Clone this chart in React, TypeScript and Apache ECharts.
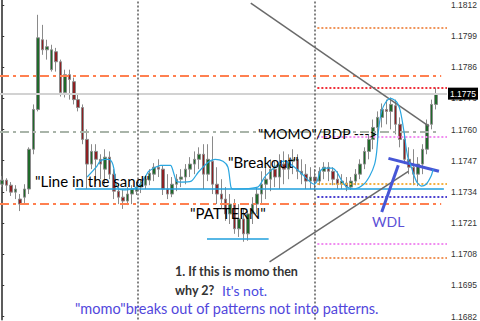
import React, { useEffect, useRef } from "react";
import * as echarts from "echarts";

// ---- data (prices) ----
const categories: string[] = Array.from({ length: 100 }, (_, i) => String(i + 1));

// [open, close, low, high]
const ohlc: number[][] = [
  [1.17372, 1.17389, 1.1736, 1.17406],
  [1.17389, 1.17368, 1.17343, 1.17397],
  [1.17368, 1.17339, 1.17323, 1.17381],
  [1.17339, 1.17352, 1.1731, 1.17368],
  [1.1731, 1.17289, 1.1726, 1.17331],
  [1.17318, 1.17352, 1.17289, 1.17372],
  [1.17352, 1.17518, 1.17331, 1.17526],
  [1.17518, 1.17684, 1.17497, 1.17705],
  [1.17684, 1.17983, 1.17676, 1.18079],
  [1.17975, 1.17933, 1.17912, 1.18037],
  [1.17933, 1.17946, 1.17892, 1.17975],
  [1.1785, 1.17933, 1.17842, 1.17954],
  [1.17925, 1.17883, 1.17842, 1.17941],
  [1.17883, 1.17755, 1.17738, 1.17892],
  [1.17755, 1.17829, 1.17734, 1.1785],
  [1.17829, 1.17809, 1.17725, 1.1785],
  [1.178, 1.17725, 1.17705, 1.17817],
  [1.17725, 1.17692, 1.17676, 1.17746],
  [1.17692, 1.17559, 1.17539, 1.17705],
  [1.17559, 1.17456, 1.17352, 1.17601],
  [1.17456, 1.17509, 1.17435, 1.17539],
  [1.17509, 1.17476, 1.17372, 1.17539],
  [1.17476, 1.17456, 1.17393, 1.17497],
  [1.17435, 1.17485, 1.17372, 1.17518],
  [1.17485, 1.17414, 1.17393, 1.17509],
  [1.17414, 1.17343, 1.1731, 1.17435],
  [1.17343, 1.17318, 1.17289, 1.17372],
  [1.17318, 1.17302, 1.17269, 1.17352],
  [1.17302, 1.17331, 1.17285, 1.1736],
  [1.17331, 1.17352, 1.17289, 1.17368],
  [1.17343, 1.1736, 1.17327, 1.17381],
  [1.1736, 1.17372, 1.17335, 1.17393],
  [1.17368, 1.17393, 1.17352, 1.1741],
  [1.17389, 1.17418, 1.17368, 1.17435],
  [1.17414, 1.17443, 1.17385, 1.1746],
  [1.17443, 1.17435, 1.17402, 1.17476],
  [1.17435, 1.17352, 1.17327, 1.17451],
  [1.17352, 1.17331, 1.1731, 1.17414],
  [1.17331, 1.17372, 1.17318, 1.17402],
  [1.17372, 1.17393, 1.17343, 1.17414],
  [1.17393, 1.17402, 1.1736, 1.17435],
  [1.17402, 1.17435, 1.17372, 1.17456],
  [1.17435, 1.17456, 1.17402, 1.17485],
  [1.17456, 1.17476, 1.17414, 1.17509],
  [1.17476, 1.17497, 1.17435, 1.17526],
  [1.17497, 1.17414, 1.17352, 1.17539],
  [1.17414, 1.17476, 1.17385, 1.17539],
  [1.17468, 1.17372, 1.17331, 1.17572],
  [1.17372, 1.17331, 1.17289, 1.17443],
  [1.17331, 1.1731, 1.17269, 1.17393],
  [1.1731, 1.17248, 1.17219, 1.1736],
  [1.17248, 1.17289, 1.17206, 1.17331],
  [1.17289, 1.17186, 1.17165, 1.1731],
  [1.17186, 1.17227, 1.17152, 1.17289],
  [1.17227, 1.17165, 1.17132, 1.17269],
  [1.17165, 1.17248, 1.17136, 1.1726],
  [1.17248, 1.17289, 1.17206, 1.17318],
  [1.17289, 1.17331, 1.17248, 1.1736],
  [1.17331, 1.17372, 1.17289, 1.17426],
  [1.17372, 1.17393, 1.1731, 1.17443],
  [1.17393, 1.17435, 1.17343, 1.17476],
  [1.17435, 1.17402, 1.1736, 1.17468],
  [1.17402, 1.17456, 1.17352, 1.17497],
  [1.17456, 1.17435, 1.17372, 1.17509],
  [1.17435, 1.17468, 1.17393, 1.17497],
  [1.17468, 1.17476, 1.17414, 1.17518],
  [1.17476, 1.17426, 1.17393, 1.17497],
  [1.17426, 1.17414, 1.17372, 1.17476],
  [1.17414, 1.17385, 1.17352, 1.17456],
  [1.17385, 1.17402, 1.17352, 1.17443],
  [1.17402, 1.17385, 1.17343, 1.17435],
  [1.17385, 1.17426, 1.17368, 1.17443],
  [1.17426, 1.17443, 1.17393, 1.17464],
  [1.17443, 1.17426, 1.17385, 1.17464],
  [1.17426, 1.17393, 1.17368, 1.17443],
  [1.17393, 1.17372, 1.17352, 1.17426],
  [1.17372, 1.17385, 1.17352, 1.17414],
  [1.17377, 1.1736, 1.17343, 1.17402],
  [1.1736, 1.17385, 1.17348, 1.17402],
  [1.17385, 1.17414, 1.17368, 1.17435],
  [1.17414, 1.17456, 1.17393, 1.17476],
  [1.17456, 1.17509, 1.17435, 1.17526],
  [1.17509, 1.17559, 1.17476, 1.1758],
  [1.17559, 1.17609, 1.17518, 1.17642],
  [1.17609, 1.17651, 1.17559, 1.17676],
  [1.17651, 1.17684, 1.17609, 1.17709],
  [1.17684, 1.17676, 1.17622, 1.17725],
  [1.17676, 1.17705, 1.17601, 1.17734],
  [1.177, 1.17622, 1.1758, 1.17725],
  [1.17622, 1.17559, 1.17526, 1.17651],
  [1.17559, 1.17476, 1.17456, 1.17593],
  [1.17476, 1.17443, 1.17414, 1.17526],
  [1.17443, 1.17414, 1.17368, 1.17518],
  [1.17414, 1.17456, 1.17364, 1.17485],
  [1.17456, 1.17518, 1.17414, 1.17539],
  [1.17518, 1.17622, 1.17497, 1.17642],
  [1.17622, 1.17705, 1.17601, 1.17725],
  [1.17705, 1.1775, 1.17684, 1.17775],
];

const yTicks: number[] = [1.1682, 1.1695, 1.1708, 1.1721, 1.1734, 1.1747, 1.176, 1.1773, 1.1786, 1.1799, 1.1812];
const yMin = 1.168075;
const yMax = 1.181408;

const currentPrice = 1.1775;
const orangeDashDotLevels: number[] = [1.17825, 1.17291];
const grayDashDotLevel = 1.1759;
const lineInTheSand = 1.17354;
const lineInTheSandSpan: number[] = [16.35, 98.8];
const patternBase = 1.17144;
const patternBaseSpan: number[] = [45.8, 59.6];
// right-hand dotted levels (start at the 2nd separator)
const rightLevelStart = 70.5;
const rightLevelEnd = 99.5;
const orangeDotLevels: number[] = [1.18025, 1.17065];
const redDotLevel = 1.17775;
const pinkDotLevels: number[] = [1.17572, 1.17123];
const goldDotLevel = 1.17372;
const purpleDotLevel = 1.17318;
const separators: number[] = [30.21, 70.01];

const trendLines: number[][][] = [
  [[14.36, 1.17887], [16.35, 1.18141]],
  [[55.6, 1.18128], [95.5, 1.17613]],
  [[59.8, 1.17048], [90.85, 1.17426]],
];
const wdlLines: number[][][] = [
  [[86.4, 1.1748], [97.7, 1.17426]],
  [[84.9, 1.17256], [88.6, 1.17451]],
];

const cyanCurve: number[][] = [
  [19.01, 1.17402], [21.01, 1.17443], [21.89, 1.17468], [23.0, 1.17476], [23.89, 1.17476], [24.56, 1.17464],
  [25.0, 1.17435], [25.44, 1.17372], [26.11, 1.17352], [27.66, 1.17348], [28.99, 1.17352], [30.54, 1.17364],
  [32.09, 1.17406], [32.76, 1.17426], [34.31, 1.17443], [35.42, 1.17451], [37.64, 1.17451], [38.3, 1.17422],
  [38.97, 1.17385], [39.86, 1.17381], [42.29, 1.17385], [43.85, 1.17422], [46.06, 1.17464], [47.62, 1.17476],
  [49.39, 1.17468], [50.5, 1.17443], [51.16, 1.1736], [51.61, 1.17352], [57.15, 1.1736], [58.7, 1.17402],
  [60.48, 1.17435], [62.25, 1.17464], [63.36, 1.17468], [64.47, 1.17456], [66.68, 1.17422], [68.68, 1.17385],
  [69.79, 1.17372], [70.45, 1.17385], [71.12, 1.17426], [72.01, 1.17439], [73.78, 1.17439], [74.89, 1.17422],
  [76.0, 1.17385], [77.11, 1.1736], [78.66, 1.17352], [80.88, 1.17372], [82.21, 1.17406], [83.31, 1.17456],
  [83.76, 1.17506], [84.2, 1.17601], [84.87, 1.17676], [85.75, 1.17713], [86.86, 1.1773], [88.19, 1.17717],
  [89.08, 1.17676], [89.97, 1.1758], [90.41, 1.17518], [90.85, 1.17476], [91.52, 1.17443], [92.63, 1.17385],
  [93.74, 1.17364], [94.84, 1.17372], [95.95, 1.17406], [96.4, 1.17435],
];

const FONT = "Lato, 'Open Sans', sans-serif";

export default function App() {
  const ref = useRef<HTMLDivElement>(null);
  useEffect(() => {
    if (!ref.current) return;
    const chart = echarts.init(ref.current, null, { renderer: "svg" });

    const dashDot = [9, 4, 3, 4];
    const dotted = [2, 2];
    const hSeg = (v: number, a: number, b: number, style: any) => [
      { coord: [a, v], lineStyle: style },
      { coord: [b, v] },
    ];
    const markData: any[] = [];
    // current price line with its price box
    markData.push([
      {
        coord: [-0.5, currentPrice],
        lineStyle: { color: "#d2d2d2", width: 2, type: "solid" },
        label: {
          show: true,
          position: "end",
          distance: 1,
          formatter: currentPrice.toFixed(4),
          backgroundColor: "#000",
          color: "#fff",
          fontSize: 8.5,
          fontFamily: "'Liberation Sans', sans-serif",
          padding: [2, 2, 1, 2],
        },
      },
      { coord: [99.5, currentPrice] },
    ]);
    orangeDashDotLevels.forEach((v) =>
      markData.push(hSeg(v, -0.5, 98.2, { color: "#ff8050", width: 2, type: dashDot }))
    );
    markData.push(hSeg(grayDashDotLevel, -0.5, 97.5, { color: "#a9b4a9", width: 2, type: dashDot }));
    orangeDotLevels.forEach((v) =>
      markData.push(hSeg(v, rightLevelStart, rightLevelEnd, { color: "#f0955a", width: 2, type: dotted }))
    );
    markData.push(hSeg(redDotLevel, rightLevelStart, rightLevelEnd, { color: "#f0303a", width: 2, type: dotted }));
    pinkDotLevels.forEach((v) =>
      markData.push(hSeg(v, rightLevelStart, rightLevelEnd, { color: "#f08cf0", width: 2, type: dotted }))
    );
    markData.push(hSeg(goldDotLevel, rightLevelStart, rightLevelEnd, { color: "#f5b040", width: 2, type: dotted }));
    markData.push(hSeg(purpleDotLevel, rightLevelStart, rightLevelEnd, { color: "#4a3fd0", width: 2, type: dotted }));
    markData.push(hSeg(lineInTheSand, lineInTheSandSpan[0], lineInTheSandSpan[1], { color: "#1f9fdc", width: 1.5, type: "solid" }));
    markData.push(hSeg(patternBase, patternBaseSpan[0], patternBaseSpan[1], { color: "#1f9fdc", width: 1.5, type: "solid" }));
    separators.forEach((x) =>
      markData.push({ xAxis: x, lineStyle: { color: "#5a5a5a", width: 1.5, type: [2, 2] } })
    );
    trendLines.forEach((t) =>
      markData.push([{ coord: t[0], lineStyle: { color: "#6a6a6a", width: 1.5, type: "solid" } }, { coord: t[1] }])
    );
    wdlLines.forEach((t) =>
      markData.push([{ coord: t[0], lineStyle: { color: "#4656d6", width: 3, type: "solid" } }, { coord: t[1] }])
    );

    const txt = (text: string, x: number, y: number, font: string, fill: string) => ({
      type: "text",
      x,
      y,
      z: 100,
      style: { text, font, fill, verticalAlign: "middle" },
    });

    chart.setOption({
      animation: false,
      backgroundColor: "#ffffff",
      grid: { left: 0, right: 29, top: 0, bottom: 0 },
      xAxis: [
        { type: "category", data: categories, show: false, boundaryGap: true },
        { type: "value", min: -0.5, max: 99.5, show: false },
      ],
      yAxis: {
        type: "value",
        position: "right",
        min: yMin,
        max: yMax,
        scale: true,
        splitLine: { show: false },
        axisLine: { show: true, lineStyle: { color: "#5c5c5c", width: 2 } },
        axisTick: { show: true, length: 2, customValues: yTicks, lineStyle: { color: "#333" } },
        axisLabel: {
          customValues: yTicks,
          formatter: (v: number) => v.toFixed(4),
          color: "#333",
          fontSize: 8.5,
          fontFamily: "'Liberation Sans', sans-serif",
          margin: 4,
        },
      },
      series: [
        {
          type: "candlestick",
          data: ohlc,
          barWidth: 3,
          itemStyle: {
            color: "#1f6a2a",
            color0: "#8e1f22",
            borderColor: "#8a8a8a",
            borderColor0: "#8a8a8a",
            borderWidth: 1,
          },
        },
        {
          type: "line",
          xAxisIndex: 1,
          data: cyanCurve,
          smooth: 0.25,
          symbol: "none",
          silent: true,
          lineStyle: { color: "#2aa6e0", width: 1.2 },
          z: 5,
          markLine: {
            symbol: ["none", "none"],
            silent: true,
            label: { show: false },
            data: markData,
          },
        },
      ],
      graphic: [
        txt('"Line in the sand"', 35, 181, `15px ${FONT}`, "#000"),
        txt('"Breakout"', 228, 162, `15px ${FONT}`, "#000"),
        txt('"MOMO"/BDP --->', 258, 133, `14px ${FONT}`, "#000"),
        txt('"PATTERN"', 190, 213, `15px ${FONT}`, "#000"),
        txt("WDL", 372, 221, `14px ${FONT}`, "#5b50d6"),
        txt("1. If this is momo then", 175, 271, `bold 12.5px ${FONT}`, "#333"),
        txt("why 2?", 175, 290, `bold 12.5px ${FONT}`, "#333"),
        txt("It's not.", 222, 290, `14px ${FONT}`, "#4a4ae0"),
        txt('"momo"breaks out of patterns not into patterns.', 75, 308, `14.5px ${FONT}`, "#5247dc"),
      ],
    });
    return () => chart.dispose();
  }, []);
  return (
    <div
      ref={ref}
      style={{ position: "fixed", left: 0, top: 0, width: 480, height: 321 }}
    />
  );
}
